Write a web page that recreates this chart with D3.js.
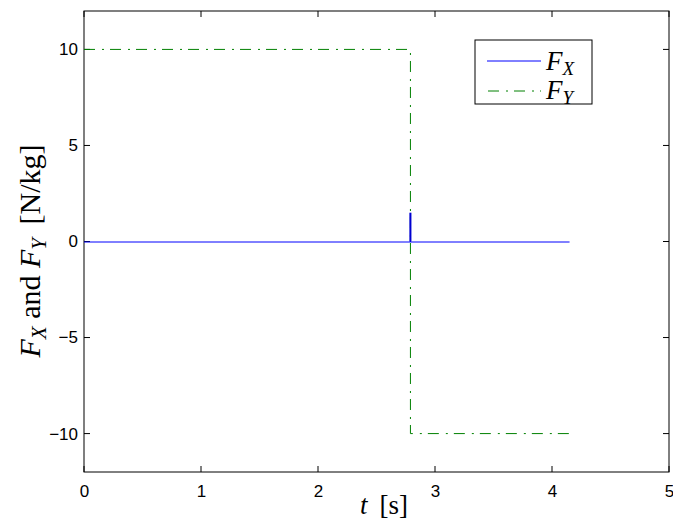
<!DOCTYPE html>
<html><head><meta charset="utf-8">
<script src="https://cdn.jsdelivr.net/npm/d3@7"></script>
<style>
body{margin:0;background:#fff;}
svg{display:block;}
</style></head>
<body>
<svg id="c" width="673" height="522"></svg>
<script>
const xTicks = [0,1,2,3,4,5];
const yTicks = [-10,-5,0,5,10];
const fxT = [0, 2.79, 2.79, 2.79, 4.15];
const fxV = [0, 0, 1.5, 0, 0];
const fyT = [0, 2.79, 2.79, 4.15];
const fyV = [10, 10, -10, -10];
const legendLabels = ["X","Y"];

const svg = d3.select("#c");
const L=84, R=669, T=11, B=472;
const x = d3.scaleLinear().domain([0,5]).range([L,R]);
const y = d3.scaleLinear().domain([-12,12]).range([B,T]);

svg.append("rect").attr("x",L).attr("y",T).attr("width",R-L).attr("height",B-T)
  .attr("fill","#fff").attr("stroke","#000").attr("stroke-width",1);

const ax = svg.append("g").attr("transform",`translate(0,${B})`)
  .call(d3.axisBottom(x).tickValues(xTicks).tickSize(0).tickPadding(13).tickFormat(d3.format("d")));
ax.select(".domain").remove();
ax.selectAll("text").attr("fill","#000").attr("font-size",17).attr("font-family","Liberation Sans, Arial, sans-serif");
xTicks.forEach(t=>{
  svg.append("line").attr("x1",x(t)).attr("x2",x(t)).attr("y1",B).attr("y2",B-6).attr("stroke","#000");
  svg.append("line").attr("x1",x(t)).attr("x2",x(t)).attr("y1",T).attr("y2",T+6).attr("stroke","#000");
});
const ay = svg.append("g").attr("transform",`translate(${L},0)`)
  .call(d3.axisLeft(y).tickValues(yTicks).tickSize(0).tickPadding(6).tickFormat(d=>d<0?"\u2212"+(-d):d));
ay.select(".domain").remove();
ay.selectAll("text").attr("fill","#000").attr("font-size",17).attr("font-family","Liberation Sans, Arial, sans-serif");
yTicks.forEach(t=>{
  svg.append("line").attr("x1",L).attr("x2",L+6).attr("y1",y(t)).attr("y2",y(t)).attr("stroke","#000");
  svg.append("line").attr("x1",R).attr("x2",R-6).attr("y1",y(t)).attr("y2",y(t)).attr("stroke","#000");
});

const line = d3.line().x(d=>x(d[0])).y(d=>y(d[1]));
const fx = fxT.map((t,i)=>[t,fxV[i]]);
const fy = fyT.map((t,i)=>[t,fyV[i]]);

svg.append("path").attr("d",line(fy)).attr("fill","none").attr("stroke","#008000")
  .attr("stroke-width",1).attr("stroke-dasharray","11,7,2,6");
svg.append("path").attr("d",line(fx)).attr("fill","none").attr("stroke","#0000ff").attr("stroke-width",1)
  .attr("transform","translate(0,0.5)");
svg.append("line").attr("x1",x(2.79)).attr("x2",x(2.79)).attr("y1",y(0)).attr("y2",y(1.5))
  .attr("stroke","#0000d0").attr("stroke-width",2);

// legend
const lg = svg.append("g");
lg.append("rect").attr("x",475).attr("y",40).attr("width",117).attr("height",64)
  .attr("fill","#fff").attr("stroke","#000").attr("stroke-width",1);
lg.append("line").attr("x1",487).attr("x2",541).attr("y1",61).attr("y2",61).attr("stroke","#0000ff");
lg.append("line").attr("x1",487).attr("x2",541).attr("y1",91).attr("y2",91).attr("stroke","#008000")
  .attr("stroke-dasharray","11,7,2,6").attr("stroke-dashoffset",-1);
legendLabels.forEach((s,i)=>{
  const t = lg.append("text").attr("x",546).attr("y",[70,99][i])
    .attr("font-family","Liberation Serif, Times New Roman, serif").attr("font-size",27).attr("font-style","italic");
  t.append("tspan").text("F");
  t.append("tspan").attr("font-size",19).attr("dy",5).text(s);
});

// axis labels
const xl = svg.append("text").attr("x",384).attr("y",514).attr("text-anchor","middle")
  .attr("font-family","Liberation Serif, Times New Roman, serif").attr("font-size",27);
xl.append("tspan").attr("font-style","italic").text("t");
xl.append("tspan").text("\u2009 [s]");

const yl = svg.append("text").attr("transform","translate(40,251) rotate(-90)").attr("text-anchor","middle")
  .attr("font-family","Liberation Serif, Times New Roman, serif").attr("font-size",30);
yl.append("tspan").attr("font-style","italic").text("F");
yl.append("tspan").attr("font-style","italic").attr("font-size",21).attr("dy",6).text("X");
yl.append("tspan").attr("dy",-6).text(" and ");
yl.append("tspan").attr("font-style","italic").text("F");
yl.append("tspan").attr("font-style","italic").attr("font-size",21).attr("dy",6).text("Y");
yl.append("tspan").attr("dy",-6).text("\u2009 [N/kg]");
</script>
</body></html>
